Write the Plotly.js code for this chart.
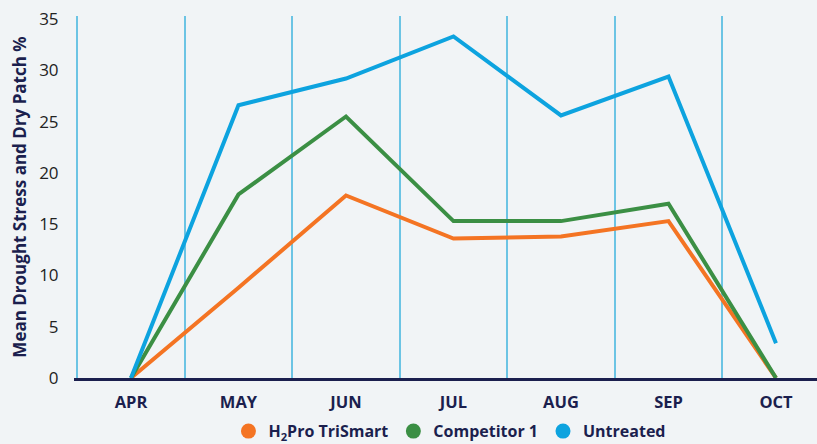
<!DOCTYPE html>
<html>
<head>
<meta charset="utf-8">
<script src="https://cdn.plot.ly/plotly-3.0.1.min.js"></script>
<style>
  html, body { margin: 0; padding: 0; background: #f1f4f6; }
  #chart { width: 817px; height: 444px; }
</style>
</head>
<body>
<div id="chart"></div>
<script>
const months = ["APR", "MAY", "JUN", "JUL", "AUG", "SEP", "OCT"];
const h2proTriSmart = [0, 8.8, 17.8, 13.6, 13.8, 15.3, 0];
const competitor1 = [0, 17.9, 25.5, 15.3, 15.3, 17.0, 0];
const untreated = [0, 26.6, 29.2, 33.3, 25.6, 29.4, 3.4];
const yTicks = [0, 5, 10, 15, 20, 25, 30, 35];
const seriesNames = ["H<sub>2</sub>Pro TriSmart", "Competitor 1", "Untreated"];
const seriesColors = ["#f47423", "#3b8f44", "#0da3df"];

const xIdx = months.map((m, i) => i);
const gridVals = months.map((m, i) => i - 0.5);
const seriesData = [h2proTriSmart, competitor1, untreated];

const traces = [];
seriesData.forEach((vals, k) => {
  traces.push({
    x: xIdx, y: vals, type: "scatter", mode: "lines",
    line: { color: seriesColors[k], width: 4 },
    showlegend: false, hoverinfo: "skip"
  });
});
seriesData.forEach((vals, k) => {
  traces.push({
    x: [null], y: [null], type: "scatter", mode: "markers",
    name: seriesNames[k],
    marker: { color: seriesColors[k], size: 15, symbol: "circle" },
    showlegend: true
  });
});

const navy = "#1b1f4e";
const layout = {
  width: 817, height: 444,
  paper_bgcolor: "#f1f4f6", plot_bgcolor: "#f1f4f6",
  margin: { l: 74, r: 0, t: 16, b: 66, autoexpand: false },
  font: { family: "Open Sans, sans-serif", color: navy },
  xaxis: {
    range: [-0.53, -0.53 + 743 / 107.5],
    tickvals: xIdx, ticktext: months,
    tickfont: { family: "Open Sans, sans-serif", size: 16.5, color: navy, weight: "bold" },
    ticks: "outside", ticklen: 8, tickcolor: "rgba(0,0,0,0)",
    showgrid: false, zeroline: false,
    showline: true, linecolor: navy, linewidth: 2.5,
    minor: { tickvals: gridVals, showgrid: true, gridcolor: "#6cc4e4", gridwidth: 2, ticks: "" },
    fixedrange: true
  },
  yaxis: {
    range: [0, 35.3],
    tickvals: yTicks,
    tickfont: { family: "Open Sans, sans-serif", size: 17, color: "#222222" },
    ticks: "outside", ticklen: 11, tickcolor: "rgba(0,0,0,0)",
    showgrid: false, zeroline: false, showline: false,
    title: { text: "Mean Drought Stress and Dry Patch %", font: { family: "Open Sans, sans-serif", size: 17, color: navy, weight: "bold" }, standoff: 8 },
    fixedrange: true
  },
  legend: {
    orientation: "h", x: 0.506, xanchor: "center", y: -0.147, yanchor: "middle",
    font: { family: "Open Sans, sans-serif", size: 16, color: navy, weight: "bold" },
    bgcolor: "rgba(0,0,0,0)", itemwidth: 30, tracegroupgap: 0
  },
  showlegend: true
};

Plotly.newPlot("chart", traces, layout, { displayModeBar: false, staticPlot: true });
</script>
</body>
</html>
